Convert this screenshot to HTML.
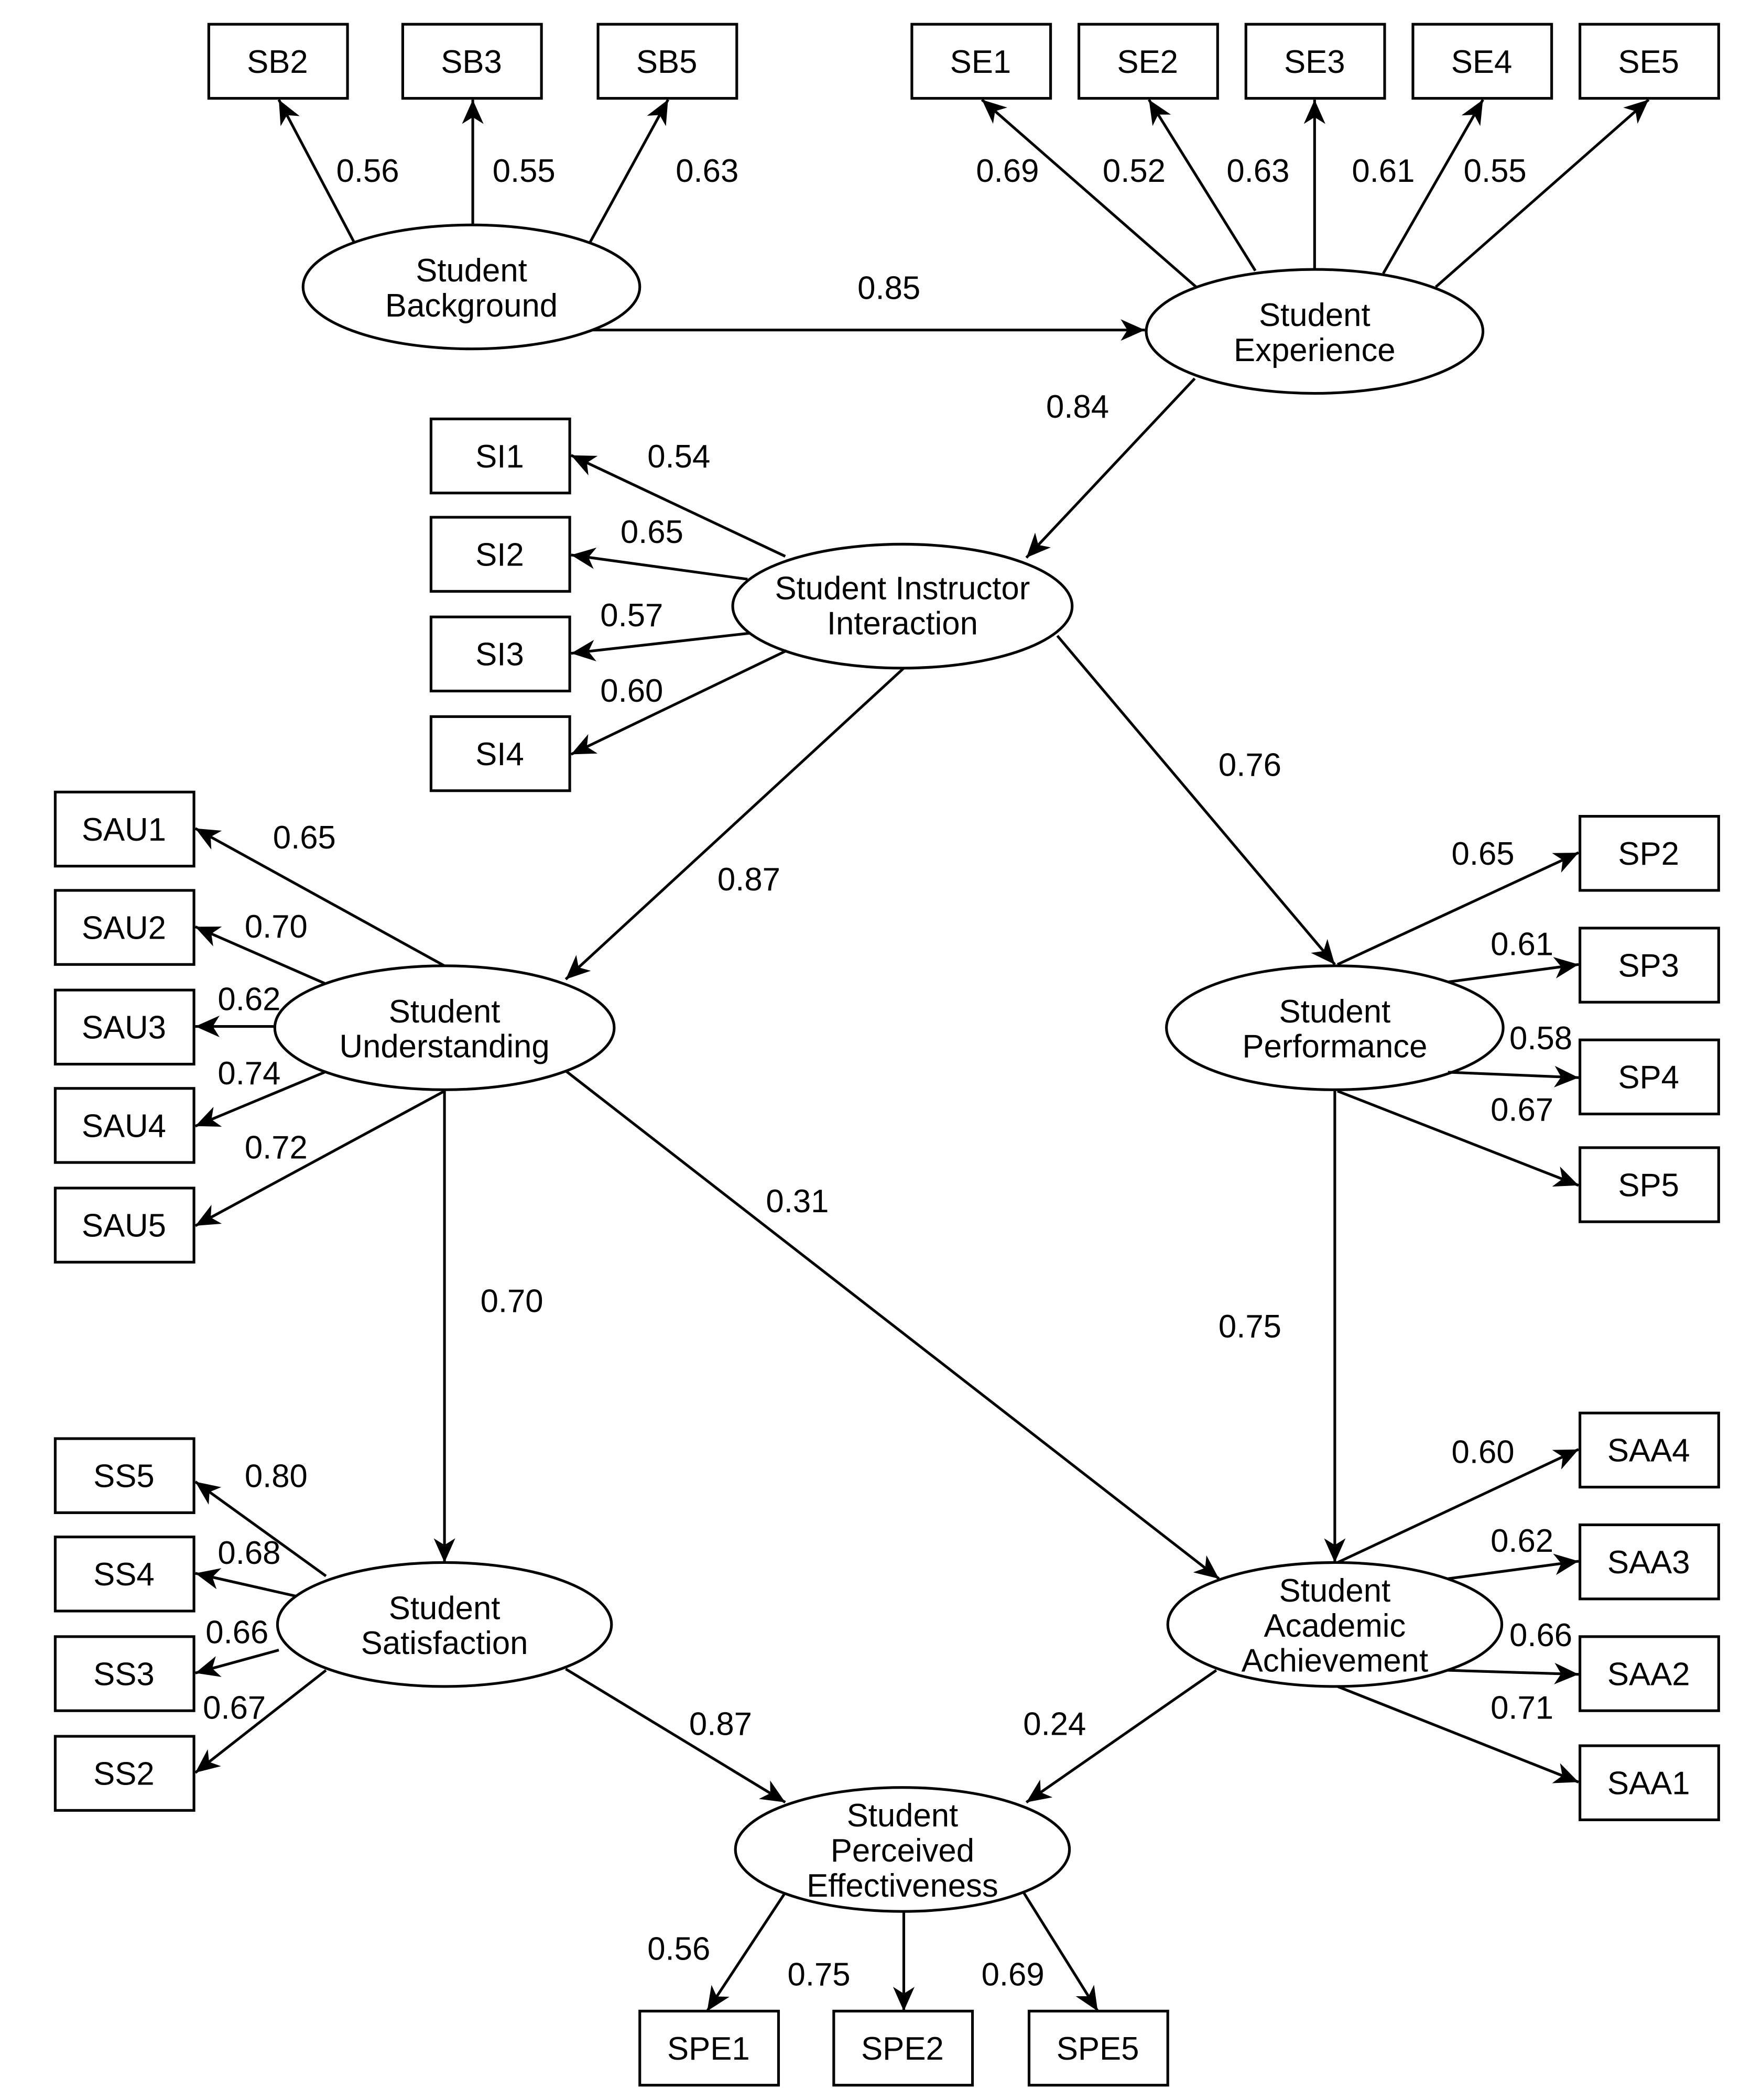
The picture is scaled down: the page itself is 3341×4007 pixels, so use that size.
<!DOCTYPE html>
<html><head><meta charset="utf-8"><style>
html,body{margin:0;padding:0;background:#fff;}
svg{display:block;}
text{font-family:"Liberation Sans",Arial,sans-serif;font-size:24px;fill:#000;}
</style></head><body>
<svg width="3341" height="4007" viewBox="0 0 1300 1559" preserveAspectRatio="none" xmlns="http://www.w3.org/2000/svg">
<defs>
<marker id="a" markerUnits="userSpaceOnUse" markerWidth="20" markerHeight="16" refX="18" refY="8" orient="auto">
<path d="M0,0 L18,8 L0,16 L5,8 Z" fill="#000"/>
</marker>
</defs>
<rect width="1300" height="1559" fill="#fff"/>
<g fill="#fff" stroke="#000" stroke-width="2">
<rect x="155" y="18" width="103" height="55"/><rect x="299" y="18" width="103" height="55"/><rect x="444" y="18" width="103" height="55"/>
<rect x="677" y="18" width="103" height="55"/><rect x="801" y="18" width="103" height="55"/><rect x="925" y="18" width="103" height="55"/><rect x="1049" y="18" width="103" height="55"/><rect x="1173" y="18" width="103" height="55"/>
<rect x="320" y="311" width="103" height="55"/><rect x="320" y="384" width="103" height="55"/><rect x="320" y="458" width="103" height="55"/><rect x="320" y="532" width="103" height="55"/>
<rect x="41" y="588" width="103" height="55"/><rect x="41" y="661" width="103" height="55"/><rect x="41" y="735" width="103" height="55"/><rect x="41" y="808" width="103" height="55"/><rect x="41" y="882" width="103" height="55"/>
<rect x="1173" y="606" width="103" height="55"/><rect x="1173" y="689" width="103" height="55"/><rect x="1173" y="772" width="103" height="55"/><rect x="1173" y="852" width="103" height="55"/>
<rect x="41" y="1068" width="103" height="55"/><rect x="41" y="1141" width="103" height="55"/><rect x="41" y="1215" width="103" height="55"/><rect x="41" y="1289" width="103" height="55"/>
<rect x="1173" y="1049" width="103" height="55"/><rect x="1173" y="1132" width="103" height="55"/><rect x="1173" y="1215" width="103" height="55"/><rect x="1173" y="1296" width="103" height="55"/>
<rect x="475" y="1493" width="103" height="55"/><rect x="619" y="1493" width="103" height="55"/><rect x="764" y="1493" width="103" height="55"/>
<ellipse cx="350" cy="213" rx="125" ry="46"/><ellipse cx="976" cy="246" rx="125" ry="46"/><ellipse cx="670" cy="450" rx="126" ry="46"/>
<ellipse cx="330" cy="763" rx="126" ry="46"/><ellipse cx="991" cy="763" rx="125" ry="46"/><ellipse cx="330" cy="1206" rx="124" ry="46"/>
<ellipse cx="991" cy="1206" rx="124" ry="46"/><ellipse cx="670" cy="1373" rx="124" ry="46"/>
</g>
<g stroke="#000" stroke-width="2" fill="none" marker-end="url(#a)">
<line x1="263" y1="180" x2="207" y2="74"/><line x1="351" y1="167" x2="351" y2="74"/><line x1="438" y1="180" x2="496" y2="74"/>
<line x1="440" y1="245" x2="850" y2="245"/>
<line x1="888" y1="213" x2="729" y2="74"/><line x1="932" y1="201" x2="853" y2="74"/><line x1="976" y1="200" x2="976" y2="74"/><line x1="1027" y1="203" x2="1101" y2="74"/><line x1="1066" y1="213" x2="1224" y2="74"/>
<line x1="887" y1="281" x2="762" y2="414"/>
<line x1="583" y1="413" x2="424" y2="338"/><line x1="555" y1="430" x2="424" y2="412"/><line x1="557" y1="470" x2="424" y2="485"/><line x1="584" y1="483" x2="424" y2="560"/>
<line x1="671" y1="496" x2="420" y2="727"/><line x1="785" y1="472" x2="991" y2="716"/>
<line x1="330" y1="717" x2="145" y2="615"/><line x1="241" y1="730" x2="145" y2="688"/><line x1="205" y1="762" x2="145" y2="762"/><line x1="241" y1="796" x2="145" y2="836"/><line x1="330" y1="810" x2="145" y2="910"/>
<line x1="993" y1="716" x2="1172" y2="633"/><line x1="1075" y1="729" x2="1172" y2="716"/><line x1="1075" y1="796" x2="1172" y2="800"/><line x1="993" y1="810" x2="1172" y2="880"/>
<line x1="330" y1="810" x2="330" y2="1160"/><line x1="420" y1="795" x2="905" y2="1172"/><line x1="991" y1="810" x2="991" y2="1160"/>
<line x1="242" y1="1170" x2="145" y2="1100"/><line x1="220" y1="1185" x2="145" y2="1168"/><line x1="207" y1="1225" x2="145" y2="1242"/><line x1="242" y1="1240" x2="145" y2="1316"/>
<line x1="993" y1="1160" x2="1172" y2="1076"/><line x1="1075" y1="1172" x2="1172" y2="1159"/><line x1="1075" y1="1240" x2="1172" y2="1243"/><line x1="993" y1="1252" x2="1172" y2="1323"/>
<line x1="420" y1="1239" x2="583" y2="1338"/><line x1="903" y1="1240" x2="762" y2="1338"/>
<line x1="583" y1="1405" x2="525" y2="1493"/><line x1="671" y1="1419" x2="671" y2="1493"/><line x1="760" y1="1405" x2="815" y2="1493"/>
</g>
<g text-anchor="middle">
<text x="206" y="54">SB2</text><text x="350" y="54">SB3</text><text x="495" y="54">SB5</text>
<text x="728" y="54">SE1</text><text x="852" y="54">SE2</text><text x="976" y="54">SE3</text><text x="1100" y="54">SE4</text><text x="1224" y="54">SE5</text>
<text x="371" y="347">SI1</text><text x="371" y="420">SI2</text><text x="371" y="494">SI3</text><text x="371" y="568">SI4</text>
<text x="92" y="624">SAU1</text><text x="92" y="697">SAU2</text><text x="92" y="771">SAU3</text><text x="92" y="844">SAU4</text><text x="92" y="918">SAU5</text>
<text x="1224" y="642">SP2</text><text x="1224" y="725">SP3</text><text x="1224" y="808">SP4</text><text x="1224" y="888">SP5</text>
<text x="92" y="1104">SS5</text><text x="92" y="1177">SS4</text><text x="92" y="1251">SS3</text><text x="92" y="1325">SS2</text>
<text x="1224" y="1085">SAA4</text><text x="1224" y="1168">SAA3</text><text x="1224" y="1251">SAA2</text><text x="1224" y="1332">SAA1</text>
<text x="526" y="1529">SPE1</text><text x="670" y="1529">SPE2</text><text x="815" y="1529">SPE5</text>
<text x="350" y="209">Student</text><text x="350" y="235">Background</text>
<text x="976" y="242">Student</text><text x="976" y="268">Experience</text>
<text x="670" y="445">Student Instructor</text><text x="670" y="471">Interaction</text>
<text x="330" y="759">Student</text><text x="330" y="785">Understanding</text>
<text x="991" y="759">Student</text><text x="991" y="785">Performance</text>
<text x="330" y="1202">Student</text><text x="330" y="1228">Satisfaction</text>
<text x="991" y="1189">Student</text><text x="991" y="1215">Academic</text><text x="991" y="1241">Achievement</text>
<text x="670" y="1356">Student</text><text x="670" y="1382">Perceived</text><text x="670" y="1408">Effectiveness</text>
<text x="273" y="135">0.56</text><text x="389" y="135">0.55</text><text x="525" y="135">0.63</text>
<text x="748" y="135">0.69</text><text x="842" y="135">0.52</text><text x="934" y="135">0.63</text><text x="1027" y="135">0.61</text><text x="1110" y="135">0.55</text>
<text x="660" y="222">0.85</text><text x="800" y="310">0.84</text>
<text x="504" y="347">0.54</text><text x="484" y="403">0.65</text><text x="469" y="465">0.57</text><text x="469" y="521">0.60</text>
<text x="556" y="661">0.87</text><text x="928" y="576">0.76</text>
<text x="226" y="630">0.65</text><text x="205" y="696">0.70</text><text x="185" y="750">0.62</text><text x="185" y="805">0.74</text><text x="205" y="860">0.72</text>
<text x="1101" y="642">0.65</text><text x="1130" y="709">0.61</text><text x="1144" y="779">0.58</text><text x="1130" y="832">0.67</text>
<text x="592" y="900">0.31</text><text x="380" y="974">0.70</text><text x="928" y="993">0.75</text>
<text x="205" y="1104">0.80</text><text x="185" y="1161">0.68</text><text x="176" y="1220">0.66</text><text x="174" y="1276">0.67</text>
<text x="1101" y="1086">0.60</text><text x="1130" y="1152">0.62</text><text x="1144" y="1222">0.66</text><text x="1130" y="1276">0.71</text>
<text x="535" y="1288">0.87</text><text x="783" y="1288">0.24</text>
<text x="504" y="1455">0.56</text><text x="608" y="1474">0.75</text><text x="752" y="1474">0.69</text>
</g>
</svg>
</body></html>
